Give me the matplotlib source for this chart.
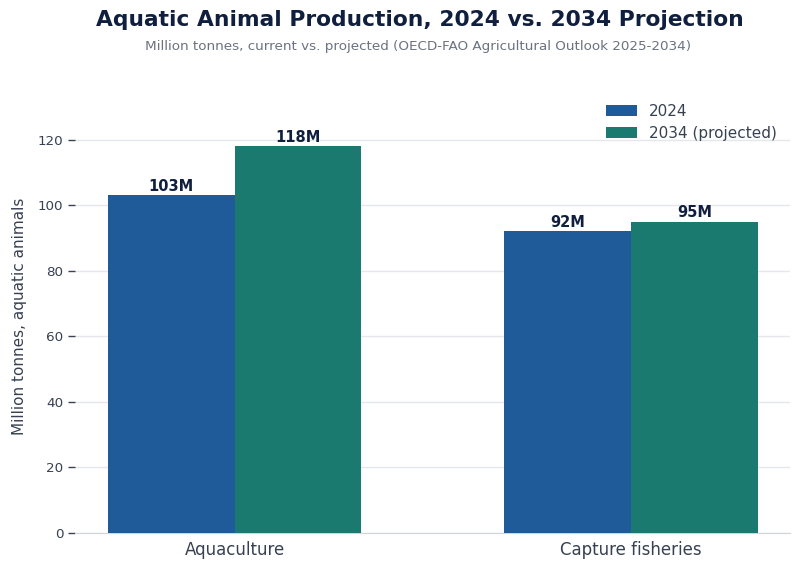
import matplotlib.pyplot as plt
import numpy as np

plt.rcParams["font.family"] = ["DejaVu Sans"]

categories = ["Aquaculture", "Capture fisheries"]
values_2024 = [103, 92]
values_2034 = [118, 95]
series_labels = ["2024", "2034 (projected)"]

COLOR_2024 = "#1f5b98"
COLOR_2034 = "#1b7a6f"
TEXT_DARK = "#0f1f3d"
TEXT_MID = "#374151"

fig = plt.figure(figsize=(8, 5.7), dpi=100)
ax = fig.add_axes([0.094, 0.065, 0.894, 0.76])

x = np.arange(len(categories))
width = 0.32

bars1 = ax.bar(x - width / 2, values_2024, width, color=COLOR_2024,
               label=series_labels[0], zorder=3)
bars2 = ax.bar(x + width / 2, values_2034, width, color=COLOR_2034,
               label=series_labels[1], zorder=3)

for bars in (bars1, bars2):
    for b in bars:
        ax.annotate(f"{b.get_height():.0f}M",
                    (b.get_x() + b.get_width() / 2, b.get_height()),
                    xytext=(0, 1), textcoords="offset points",
                    ha="center", va="bottom", fontsize=10.5,
                    fontweight="bold", color=TEXT_DARK)

ax.set_ylim(0, max(values_2034) * 1.12)
ax.set_xticks(x)
ax.set_xticklabels(categories, fontsize=12, color=TEXT_MID)
ax.tick_params(axis="x", length=0, pad=6)
ax.tick_params(axis="y", labelsize=9.7, colors=TEXT_MID, length=5, width=1,
               color="#374151")
ax.set_ylabel("Million tonnes, aquatic animals", fontsize=11, color=TEXT_MID,
              labelpad=8)

ax.grid(axis="y", color="#e5e7eb", linewidth=1, zorder=0)
ax.set_axisbelow(True)
for side in ("top", "right", "left"):
    ax.spines[side].set_visible(False)
ax.spines["bottom"].set_color("#d1d5db")

ax.legend(frameon=False, fontsize=11, loc="upper right",
          bbox_to_anchor=(1.0, 1.023), labelcolor=TEXT_MID)

fig.text(0.525, 0.965, "Aquatic Animal Production, 2024 vs. 2034 Projection",
         ha="center", va="center", fontsize=15.7, fontweight="bold", color=TEXT_DARK)
fig.text(0.523, 0.919, "Million tonnes, current vs. projected (OECD-FAO Agricultural Outlook 2025-2034)",
         ha="center", va="center", fontsize=9.7, color="#6b7280")

fig.savefig("out.png", dpi=100)
